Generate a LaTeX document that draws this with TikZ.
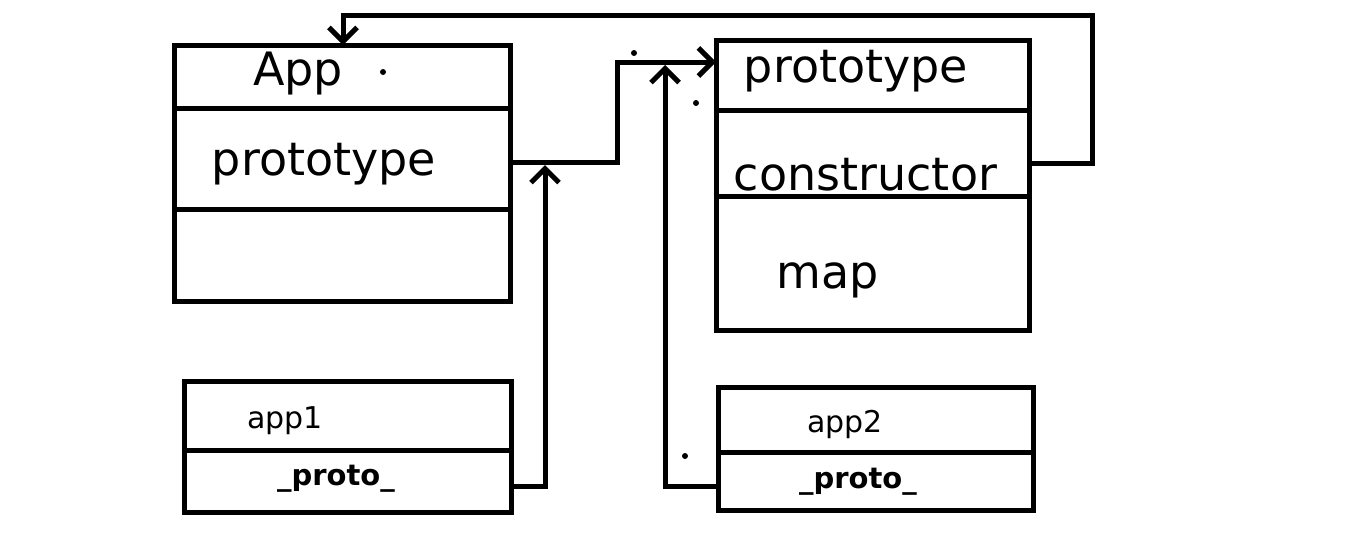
\documentclass[tikz,border=0pt]{standalone}
\usepackage{fontspec}
\setmainfont{DejaVu Sans}
\usetikzlibrary{arrows.meta}
\tikzset{
  box/.style={draw, line width=5pt, rectangle, inner sep=0pt, outer sep=0pt},
  divider/.style={line width=5pt},
  conn/.style={line width=5pt, line join=miter},
  tip/.style={conn, -{Straight Barb[length=14pt,width=28pt,line width=5pt]}},
  bigtxt/.style={font=\fontsize{46}{50}\selectfont, inner sep=0pt, anchor=base},
  smalltxt/.style={font=\fontsize{30}{34}\selectfont, inner sep=0pt, anchor=base},
  boldtxt/.style={font=\fontsize{29}{34}\selectfont\bfseries, inner sep=0pt, anchor=base},
  speck/.style={fill=black, circle, inner sep=0pt, minimum size=6pt}
}
\begin{document}
\begin{tikzpicture}[x=1pt,y=-1pt]
\useasboundingbox[fill=white] (0,0) rectangle (1360,550);
% boxes
\node[box, minimum width=336pt, minimum height=256pt] (App) at (342,173) {};
\node[box, minimum width=313pt, minimum height=290pt] (Proto) at (872.5,185) {};
\node[box, minimum width=327pt, minimum height=131pt] (app1) at (347.5,446.5) {};
\node[box, minimum width=315pt, minimum height=123pt] (app2) at (875.5,448.5) {};
% divider levels
\coordinate (d1) at (0,108);
\coordinate (d2) at (0,209);
\coordinate (d3) at (0,110);
\coordinate (d4) at (0,196);
\coordinate (d5) at (0,450);
\coordinate (d6) at (0,452);
\draw[divider] (App.west |- d1) -- (App.east |- d1);
\draw[divider] (App.west |- d2) -- (App.east |- d2);
\draw[divider] (Proto.west |- d3) -- (Proto.east |- d3);
\draw[divider] (Proto.west |- d4) -- (Proto.east |- d4);
\draw[divider] (app1.west |- d5) -- (app1.east |- d5);
\draw[divider] (app2.west |- d6) -- (app2.east |- d6);
% texts
\node[bigtxt] (tApp) at (298,85) {App};
\node[bigtxt] (tAppProto) at (324,175) {prototype};
\node[bigtxt] (tProto) at (856,82) {prototype};
\node[bigtxt] (tCons) at (865.5,190) {constructor};
\node[bigtxt] (tMap) at (828,288) {map};
\node[smalltxt] (tapp1) at (285,428) {app1};
\node[boldtxt] (tp1) at (336,485) {\_proto\_};
\node[smalltxt] (tapp2) at (845,432) {app2};
\node[boldtxt] (tp2) at (858,488) {\_proto\_};
% connector levels
\coordinate (yA) at (0,162);
\coordinate (yB) at (0,62);
\coordinate (yC) at (0,486);
\coordinate (yE) at (0,163);
\coordinate (j1) at (617,162);
\coordinate (j2) at (617,62);
\coordinate (k1) at (545,486);
\coordinate (k2) at (545,165);
\coordinate (m1) at (665,486);
\coordinate (m2) at (665,65);
\coordinate (n1) at (1092,163);
\coordinate (n2) at (1092,15);
\coordinate (n3) at (343,15);
% connectors
\draw[tip] (App.east |- yA) -- (j1) -- (j2) -- (Proto.west |- yB);
\draw[tip] (app1.east |- yC) -- (k1) -- (k2);
\draw[tip] (app2.west |- yC) -- (m1) -- (m2);
\draw[tip] (Proto.east |- yE) -- (n1) -- (n2) -- (n3) -- (App.north -| n3);
% specks
\node[speck] (s1) at (383,72) {};
\node[speck] (s2) at (634,53) {};
\node[speck] (s3) at (696,103) {};
\node[speck] (s4) at (685,456) {};
\end{tikzpicture}
\end{document}
